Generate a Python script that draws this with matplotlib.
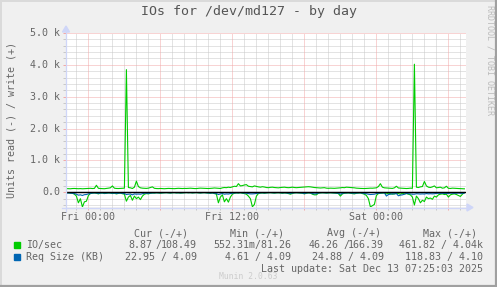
import matplotlib
matplotlib.use("Agg")
import matplotlib.pyplot as plt
from matplotlib.patches import Polygon
from matplotlib.lines import Line2D

W, H = 497, 287

# ---- data (hours relative to Fri 00:00, 10-minute steps) ----
t_start = -1.8
step_h = 1.0 / 6.0

write_io = [115, 112, 110, 118, 120, 115, 112, 116, 110, 114, 118, 120, 125, 118, 122, 220, 125, 118, 115, 112,
            120, 130, 140, 200, 128, 120, 118, 122, 125, 130, 3850, 150, 140, 120, 160, 350, 180, 140, 130, 125,
            122, 130, 150, 170, 125, 118, 115, 120, 117, 112, 118, 122, 120, 116, 114, 118, 125, 120, 118, 122,
            120, 125, 128, 122, 118, 116, 125, 130, 128, 124, 120, 118, 122, 128, 135, 130, 125, 120, 140, 150,
            145, 160, 150, 170, 190, 180, 270, 200, 210, 230, 240, 190, 180, 170, 200, 185, 170, 160, 175, 165,
            150, 145, 155, 160, 150, 145, 140, 150, 155, 160, 150, 145, 150, 160, 150, 145, 150, 155, 160, 165,
            170, 175, 170, 160, 150, 145, 140, 135, 140, 145, 130, 125, 130, 128, 125, 130, 135, 140, 150, 145,
            160, 155, 150, 145, 140, 130, 125, 122, 120, 118, 120, 125, 130, 128, 135, 140, 180, 270, 160, 140,
            135, 130, 125, 122, 140, 190, 135, 130, 125, 120, 118, 122, 130, 125, 4020, 160, 150, 170, 180, 340,
            200, 160, 150, 170, 200, 140, 150, 160, 130, 140, 190, 125, 120, 130, 125, 120, 118, 115, 112, 108.49]

read_io = [20, 15, 25, 30, 60, 120, 330, 200, 461.82, 300, 280, 100, 40, 25, 20, 30, 50, 25, 20, 40,
           30, 20, 25, 40, 30, 50, 35, 25, 45, 60, 280, 150, 100, 250, 120, 200, 150, 230, 120, 60,
           40, 50, 30, 20, 25, 15, 20, 30, 20, 15, 12, 20, 25, 15, 12, 20, 18, 25, 20, 15,
           10, 15, 12, 20, 15, 10, 18, 22, 15, 12, 20, 25, 30, 20, 40, 60, 330, 150, 80, 300,
           200, 310, 150, 60, 30, 20, 25, 15, 30, 40, 60, 120, 200, 455, 380, 120, 40, 25, 20, 30,
           20, 15, 12, 20, 25, 18, 15, 20, 30, 20, 25, 40, 60, 35, 20, 15, 20, 25, 30, 50,
           30, 20, 25, 60, 80, 80, 30, 20, 15, 18, 25, 20, 15, 20, 25, 30, 40, 120, 50, 30,
           25, 20, 30, 40, 50, 30, 25, 20, 40, 60, 100, 200, 460, 420, 380, 100, 40, 30, 25, 20,
           50, 30, 40, 60, 50, 30, 40, 60, 30, 50, 40, 60, 80, 150, 400, 120, 200, 330, 250, 290,
           150, 200, 180, 220, 120, 150, 80, 60, 50, 70, 60, 150, 80, 60, 50, 70, 100, 130, 60, 8.87]

req_read = [20, 22, 25, 30, 40, 60, 90, 80, 100, 75, 70, 50, 35, 25, 20, 22, 35, 25, 20, 30,
            25, 20, 22, 30, 25, 35, 28, 22, 30, 40, 70, 60, 55, 80, 50, 60, 55, 60, 45, 30,
            30, 35, 25, 20, 18, 15, 18, 20, 15, 12, 10, 15, 18, 12, 10, 15, 14, 18, 15, 12,
            8, 12, 10, 15, 12, 8, 14, 18, 12, 10, 15, 20, 25, 18, 30, 40, 70, 50, 40, 60,
            50, 55, 40, 30, 20, 15, 18, 12, 20, 25, 30, 40, 50, 50, 45, 35, 25, 18, 15, 20,
            15, 12, 10, 15, 18, 12, 10, 15, 20, 15, 18, 25, 35, 22, 15, 12, 15, 18, 22, 40,
            20, 15, 18, 40, 50, 45, 22, 15, 12, 15, 18, 15, 12, 15, 18, 22, 30, 60, 35, 20,
            18, 15, 20, 25, 30, 22, 18, 15, 25, 40, 45, 60, 70, 65, 60, 40, 30, 22, 18, 15,
            118.83, 70, 60, 45, 50, 40, 110, 90, 80, 60, 35, 45, 50, 60, 60, 45, 50, 55, 50, 55,
            40, 50, 45, 50, 45, 35, 30, 35, 30, 40, 35, 40, 25, 30, 35, 30, 25, 30, 35, 22.95]

req_write_t = [-1.8, 31.37]
req_write = [4.09, 4.09]

x_tick_pos = [0, 12, 24]
x_tick_labels = ["Fri 00:00", "Fri 12:00", "Sat 00:00"]
y_tick_pos = [0, 1000, 2000, 3000, 4000, 5000]
y_tick_labels = ["0.0", "1.0 k", "2.0 k", "3.0 k", "4.0 k", "5.0 k"]

legend_names = ["IO/sec", "Req Size (KB)"]
legend_colors = ["#00CC00", "#0066B3"]
headers = ["Cur (-/+)", "Min (-/+)", "Avg (-/+)", "Max (-/+)"]
row_min = ["552.31m/81.26", "4.61 / 4.09"]
row_max = ["461.82 / 4.04k", "118.83 / 4.10"]
row2_cur = "22.95 / 4.09"
row2_avg = "24.88 / 4.09"

n = len(write_io)
t = [t_start + i * step_h for i in range(n)]

# ---- figure ----
fig = plt.figure(figsize=(W / 100, H / 100), dpi=100, facecolor="#F0F0F0")
mono = "DejaVu Sans Mono"
FONT = "#666666"

def fx(px):
    return px / W

def fy(py):
    return 1 - py / H

ax_l, ax_r, ax_t, ax_b = 66, 466, 33, 207
ax = fig.add_axes([fx(ax_l), fy(ax_b), (ax_r - ax_l) / W, (ax_b - ax_t) / H])
ax.set_facecolor("white")
xmin = (ax_l - 88) / 12.0
xmax = (ax_r - 88) / 12.0
ax.set_xlim(xmin, xmax)
ax.set_ylim(-461.82, 5000)
for s in ax.spines.values():
    s.set_visible(False)

# grid
minor_c = "#C8C8C8"
major_c = "#F2A8A8"
dot = (0, (1, 1))
gkw = dict(lw=0.72, ls=dot, snap=True)
for h in range(-1, 32):
    if h % 6 == 0:
        continue
    ax.axvline(h, color=minor_c, zorder=1, **gkw)
for v in range(-400, 5001, 200):
    if v % 1000 == 0:
        continue
    ax.axhline(v, color=minor_c, zorder=1, **gkw)
for h in range(0, 32, 6):
    ax.axvline(h, color=major_c, zorder=1.5, **gkw)
for v in range(1000, 5001, 1000):
    ax.axhline(v, color=major_c, zorder=1.5, **gkw)

ax.set_xticks(list(range(0, 32, 6)))
ax.set_xticks([h for h in range(-1, 32) if h % 6], minor=True)
ax.set_yticks(list(range(0, 5001, 1000)))
ax.set_yticks([v for v in range(-400, 5001, 200) if v % 1000], minor=True)
ax.tick_params(which="major", length=2, width=0.72, color=major_c, direction="out",
               labelbottom=False, labelleft=False)
ax.tick_params(which="minor", length=2, width=0.72, color=minor_c, direction="out",
               labelbottom=False, labelleft=False)

# data lines
neg_read = [-v for v in read_io]
neg_req = [-v for v in req_read]
ax.plot(t, neg_read, color="#00CC00", lw=0.8, zorder=3)
ax.plot(t, write_io, color="#00CC00", lw=0.8, zorder=3)
ax.plot(t, neg_req, color="#0066B3", lw=0.8, zorder=4)
ax.plot(req_write_t, req_write, color="#0066B3", lw=0.8, zorder=4)
ax.axhline(0, color="black", lw=1.0, zorder=5)

# axis lines with arrows (figure pixel coords)
axis_c = "#CFD6F8"
fig.add_artist(Line2D([fx(62), fx(468)], [fy(207.5), fy(207.5)], color=axis_c, lw=0.9))
fig.add_artist(Line2D([fx(66), fx(66)], [fy(211), fy(31)], color=axis_c, lw=0.9))
fig.add_artist(Polygon([[fx(467), fy(204)], [fx(473), fy(207.5)], [fx(467), fy(211)]],
                       closed=True, color=axis_c, transform=fig.transFigure))
fig.add_artist(Polygon([[fx(62.5), fy(32)], [fx(66), fy(26)], [fx(69.5), fy(32)]],
                       closed=True, color=axis_c, transform=fig.transFigure))

# tick labels
for pos, lab in zip(x_tick_pos, x_tick_labels):
    fig.text(fx(88 + 12 * pos), fy(217), lab, ha="center", va="center",
             family=mono, fontsize=7.2, color=FONT)
for pos, lab in zip(y_tick_pos, y_tick_labels):
    py = 192.3 - pos * (159.3 / 5000)
    fig.text(fx(60), fy(py), lab, ha="right", va="center",
             family=mono, fontsize=7.2, color=FONT)

# title, y label, watermark
fig.text(fx(249), fy(12), "IOs for /dev/md127 - by day", ha="center", va="center",
         family=mono, fontsize=9.5, color="#555555")
fig.text(fx(12), fy(120), "Units read (-) / write (+)", ha="center", va="center",
         rotation=90, family=mono, fontsize=7.2, color=FONT)
fig.text(fx(490), fy(5), "RRDTOOL / TOBI OETIKER", ha="center", va="top",
         rotation=270, family=mono, fontsize=6, color="#BBBBBB")

# legend
hdr_x = [134, 230, 327, 423]
for hx, htxt in zip(hdr_x, headers):
    fig.text(fx(hx), fy(233), htxt, ha="left", va="center", family=mono,
             fontsize=7.2, color=FONT)
row_y = [245, 257]
for ry, name, col in zip(row_y, legend_names, legend_colors):
    fig.add_artist(Polygon([[fx(14), fy(ry - 3)], [fx(20), fy(ry - 3)],
                            [fx(20), fy(ry + 3)], [fx(14), fy(ry + 3)]],
                           closed=True, color=col, transform=fig.transFigure))
    fig.text(fx(26), fy(ry), name, ha="left", va="center", family=mono,
             fontsize=7.2, color=FONT)

def txt(px, py, s, ha="right"):
    fig.text(fx(px), fy(py), s, ha=ha, va="center", family=mono, fontsize=7.2, color=FONT)

# row 1 (overlapping slash as in the original)
txt(152, 245, "8.87")
txt(197, 245, "108.49")
txt(161.5, 245, "/")
txt(291, 245, row_min[0])
txt(339, 245, "46.26")
txt(384, 245, "166.39")
txt(349, 245, "/")
txt(483, 245, row_max[0])
# row 2
txt(197, 257, row2_cur)
txt(291, 257, row_min[1])
txt(384, 257, row2_avg)
txt(483, 257, row_max[1])
# last update
txt(483, 269, "Last update: Sat Dec 13 07:25:03 2025")
fig.text(fx(248), fy(276.5), "Munin 2.0.63", ha="center", va="center", family=mono,
         fontsize=5.8, color="#CCCCCC")

# border
fig.add_artist(Line2D([fx(0.5), fx(0.5)], [fy(0), fy(287)], color="#DADADA", lw=1.4))
fig.add_artist(Line2D([fx(0), fx(497)], [fy(0.5), fy(0.5)], color="#DADADA", lw=1.4))
fig.add_artist(Line2D([fx(496), fx(496)], [fy(0), fy(287)], color="#A0A0A0", lw=1.6))
fig.add_artist(Line2D([fx(0), fx(497)], [fy(286), fy(286)], color="#A0A0A0", lw=1.6))

fig.savefig("out.png", dpi=100, facecolor=fig.get_facecolor())
